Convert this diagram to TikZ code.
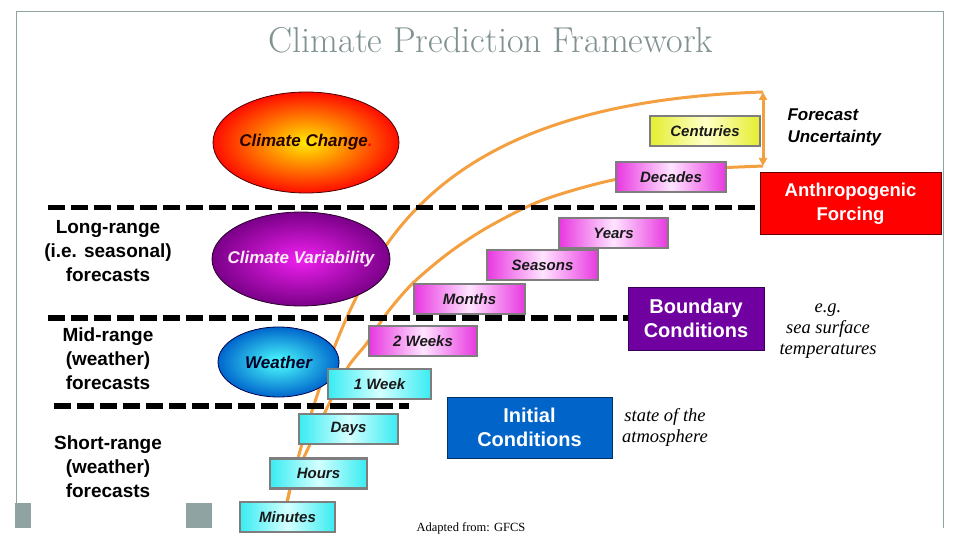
\documentclass[tikz,border=0pt]{standalone}
\usepackage{fontspec}
\usetikzlibrary{shapes.geometric,arrows.meta}
\newfontfamily\arialf{Liberation Sans}
\newfontfamily\tnrf{Liberation Serif}
\definecolor{framegrey}{HTML}{8FA3A3}
\definecolor{titlegrey}{HTML}{7F9191}
\definecolor{boxgrey}{HTML}{7E7E7E}
\definecolor{orangeC}{HTML}{F4A040}
\definecolor{magE}{HTML}{E838E0}
\definecolor{magM}{HTML}{FFE4FF}
\definecolor{cyanE}{HTML}{38ECF2}
\definecolor{cyanM}{HTML}{D4FFFF}
\definecolor{yelE}{HTML}{E4EE30}
\definecolor{yelM}{HTML}{FFFFC8}
\definecolor{redC}{HTML}{FF0000}
\definecolor{purpC}{HTML}{7000A0}
\definecolor{blueC}{HTML}{0064C8}
\definecolor{cvIn}{HTML}{F020F0}
\definecolor{cvOut}{HTML}{7A0088}
\begin{document}
\begin{tikzpicture}[x=1pt,y=-1pt,
  frameline/.style={draw=framegrey, line width=1pt},
  tbox/.style={draw=boxgrey, line width=2.5pt, minimum height=30pt, inner sep=0pt,
    font=\arialf\bfseries\itshape\fontsize{15}{18}\selectfont, text=black!90},
  magbox/.style={tbox, left color=magE, right color=magE, middle color=magM},
  cyanbox/.style={tbox, left color=cyanE, right color=cyanE, middle color=cyanM},
  yelbox/.style={tbox, left color=yelE, right color=yelE, middle color=yelM},
  bigbox/.style={inner sep=0pt, align=center, text=white, line width=1pt,
    font=\arialf\bfseries\fontsize{20}{24}\selectfont},
  ell/.style={ellipse, inner sep=0pt, line width=0.8pt},
  elltext/.style={inner sep=0pt, font=\arialf\bfseries\itshape\fontsize{17}{20}\selectfont},
  dashline/.style={line width=5.5pt, dash pattern=on 17pt off 6pt, black},
  curve/.style={draw=orangeC, line width=3pt, line join=round},
  rangelabel/.style={align=center, font=\arialf\bfseries\fontsize{19}{24}\selectfont},
  serifnote/.style={align=center, font=\tnrf\itshape\fontsize{18.5}{21}\selectfont}
]
\useasboundingbox (0,0) rectangle (960,540);
% frame
\draw[frameline] (16,528) -- (16,12) -- (943,12) -- (943,528);
\fill[framegrey] (15,503) rectangle (31,528);
\fill[framegrey] (186,503) rectangle (212,528);
\node[text=titlegrey, font=\fontsize{36}{40}\selectfont] (title) at (491,40) {Climate Prediction Framework};

% curves
\coordinate (cs) at (285,512);
\coordinate (ua) at (763,92);
\coordinate (ub) at (763,166);
\draw[curve] (cs) .. controls (300,440) and (330,350) .. (355,300)
  .. controls (410,180) and (520,100) .. (ua);
\draw[curve] plot[smooth] coordinates {(285,512) (292,482) (305,455) (328,406) (348,367) (367,343) (387,313) (413,283) (450,252) (490,226) (543,200) (613,180) (690,169)} -- (ub);
\draw[curve, {Triangle[width=8pt,length=8pt]}-{Triangle[width=8pt,length=8pt]}] (ua) -- (ub);

% big boxes
\node[bigbox, fill=redC, draw=red!40!black, minimum width=181pt, minimum height=61pt, font=\arialf\bfseries\fontsize{18.5}{24}\selectfont] (anthro) at (850.5,203.5) {Anthropogenic\\Forcing};
\node[bigbox, fill=purpC, draw=purpC!50!black, minimum width=136pt, minimum height=63pt] (bound) at (696,318.5) {Boundary\\Conditions};
\node[bigbox, fill=blueC, draw=blueC!50!black, minimum width=165pt, minimum height=61pt] (init) at (529.5,427.5) {Initial\\Conditions};

% dashed range separators
\coordinate (d1s) at (48,207.5);
\coordinate (d2s) at (48,318);
\coordinate (d3s) at (54,406);
\coordinate (d3e) at (409,406);
\draw[dashline] (d1s) -- (d1s -| anthro.west);
\draw[dashline] (d2s) -- (d2s -| bound.west);
\draw[dashline] (d3s) -- (d3e);

% ellipses
\node[ell, minimum width=186pt, minimum height=101pt, inner color=yellow!85!orange, outer color=red!90!orange, draw=red!30!black] (cc) at (306,142.5) {};
\node[elltext, text=black!85!red] (cct) at (cc.center) {Climate Change\textcolor{red}{.}};
\node[ell, minimum width=178pt, minimum height=94pt, inner color=cvIn, outer color=cvOut, draw=violet!30!black] (cv) at (301,259) {};
\node[elltext, text=white!92!magenta] (cvt) at (cv.center) {Climate Variability};
\node[ell, minimum width=121pt, minimum height=70pt, inner color=cyan!70!white, outer color=blue!50!cyan!80!black, draw=blue!30!black] (we) at (278.5,362) {};
\node[elltext, text=black!85!blue] (wet) at (we.center) {Weather};

% time-scale boxes
\node[yelbox, minimum width=110pt] (cent) at (705,131) {Centuries};
\node[magbox, minimum width=110pt] (dec) at (671,177) {Decades};
\node[magbox, minimum width=109pt] (yrs) at (613.5,233) {Years};
\node[magbox, minimum width=111pt] (seas) at (542.5,265) {Seasons};
\node[magbox, minimum width=111pt] (mon) at (469.5,299) {Months};
\node[magbox, minimum width=108pt] (w2) at (423,341) {2 Weeks};
\node[cyanbox, minimum width=103pt] (w1) at (379.5,384) {1 Week};
\node[cyanbox, minimum width=99pt] (days) at (348.5,429) {Days};
\node[cyanbox, minimum width=97pt] (hrs) at (318.5,473.5) {Hours};
\node[cyanbox, minimum width=95pt] (mins) at (287.5,517) {Minutes};

% labels
\node[anchor=west, align=left, font=\arialf\bfseries\itshape\fontsize{17}{22}\selectfont] (fu) at (784,127) {Forecast\\Uncertainty};
\node[serifnote] (eg) at (828,331) {e.g.\\sea surface\\temperatures};
\node[serifnote] (soa) at (665,427.5) {state of the\\atmosphere};
\node[font=\tnrf\fontsize{12.5}{14}\selectfont] (src) at (471,528) {Adapted from: GFCS};
\node[rangelabel] (lr) at (108,251) {Long-range\\(i.e. seasonal)\\forecasts};
\node[rangelabel] (mr) at (108,359) {Mid-range\\(weather)\\forecasts};
\node[rangelabel] (sr) at (108,467) {Short-range\\(weather)\\forecasts};
\end{tikzpicture}
\end{document}
